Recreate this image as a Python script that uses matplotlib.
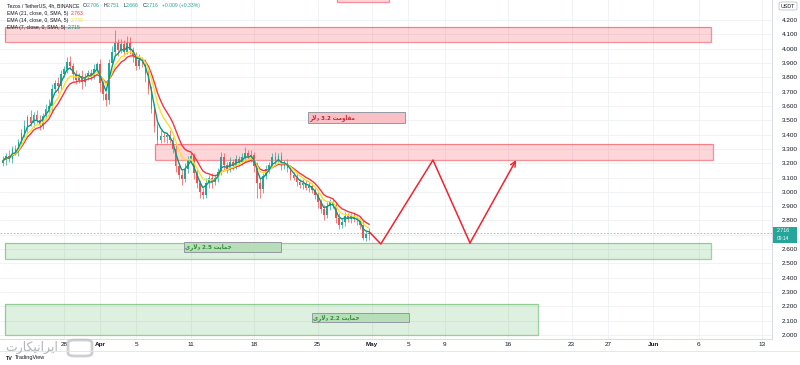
import numpy as np
import pandas as pd
import matplotlib
matplotlib.use("Agg")
import matplotlib.pyplot as plt
import matplotlib.patches as patches
from matplotlib.lines import Line2D

plt.rcParams["font.family"] = ["Liberation Sans", "DejaVu Sans"]

# --- data (8h candles, XTZ/USDT) ---
candle_start = "2022-03-21 08:00"
candle_freq = "8h"
first_open = 3.20
closes = [
    3.22, 3.25, 3.23, 3.30, 3.28, 3.35, 3.41, 3.46, 3.52, 3.48,
    3.54, 3.50, 3.47, 3.53, 3.58, 3.60, 3.72, 3.76, 3.74, 3.82,
    3.86, 3.91, 3.88, 3.82, 3.78, 3.81, 3.77, 3.80, 3.83, 3.81,
    3.86, 3.89, 3.76, 3.68, 3.64, 3.90, 3.98, 4.04, 3.99, 4.03,
    3.98, 4.04, 3.99, 3.95, 3.88, 3.92, 3.90, 3.82, 3.72, 3.58,
    3.46, 3.36, 3.39, 3.38, 3.40, 3.36, 3.30, 3.18, 3.12, 3.09,
    3.16, 3.22, 3.25, 3.13, 3.06, 3.00, 2.98, 3.06, 3.10, 3.07,
    3.10, 3.14, 3.24, 3.19, 3.16, 3.21, 3.18, 3.23, 3.21, 3.24,
    3.27, 3.24, 3.26, 3.18, 3.06, 3.02, 3.11, 3.16, 3.19, 3.24,
    3.22, 3.25, 3.18, 3.20, 3.17, 3.12, 3.10, 3.07, 3.05, 3.06,
    3.03, 3.04, 3.01, 2.98, 2.93, 2.88, 2.84, 2.90, 2.93, 2.91,
    2.82, 2.77, 2.79, 2.83, 2.81, 2.83, 2.81, 2.80, 2.77, 2.68,
    2.706, 2.716,
]
wick_up = [
    0.03, 0.02, 0.04, 0.02, 0.03, 0.02, 0.03, 0.04, 0.02, 0.05,
    0.02, 0.03, 0.04, 0.02, 0.03, 0.05, 0.03, 0.02, 0.04, 0.03,
    0.02, 0.03, 0.04, 0.02, 0.03, 0.02, 0.04, 0.03, 0.02, 0.03,
    0.03, 0.02, 0.04, 0.03, 0.02, 0.03, 0.04, 0.09, 0.03, 0.04,
    0.03, 0.05, 0.04, 0.02, 0.03, 0.04, 0.02, 0.03, 0.04, 0.02,
    0.03, 0.02, 0.04, 0.03, 0.02, 0.03, 0.02, 0.03, 0.02, 0.03,
    0.04, 0.03, 0.03, 0.02, 0.03, 0.02, 0.03, 0.04, 0.02, 0.03,
    0.02, 0.03, 0.04, 0.03, 0.02, 0.03, 0.02, 0.03, 0.02, 0.03,
    0.04, 0.02, 0.03, 0.02, 0.03, 0.04, 0.02, 0.03, 0.02, 0.03,
    0.04, 0.02, 0.03, 0.02, 0.03, 0.02, 0.02, 0.03, 0.02, 0.03,
    0.02, 0.03, 0.02, 0.02, 0.03, 0.02, 0.03, 0.03, 0.02, 0.03,
    0.02, 0.03, 0.02, 0.03, 0.02, 0.02, 0.03, 0.02, 0.02, 0.03,
    0.02, 0.035,
]
wick_dn = [
    0.02, 0.03, 0.02, 0.03, 0.02, 0.03, 0.02, 0.03, 0.04, 0.02,
    0.03, 0.02, 0.04, 0.03, 0.02, 0.03, 0.04, 0.02, 0.05, 0.03,
    0.02, 0.03, 0.02, 0.04, 0.03, 0.02, 0.05, 0.03, 0.02, 0.03,
    0.02, 0.03, 0.06, 0.04, 0.04, 0.03, 0.02, 0.03, 0.04, 0.02,
    0.03, 0.02, 0.03, 0.04, 0.03, 0.02, 0.03, 0.05, 0.04, 0.03,
    0.04, 0.03, 0.02, 0.03, 0.04, 0.02, 0.03, 0.04, 0.03, 0.04,
    0.02, 0.03, 0.02, 0.04, 0.03, 0.04, 0.03, 0.02, 0.03, 0.04,
    0.02, 0.03, 0.02, 0.04, 0.03, 0.02, 0.03, 0.02, 0.03, 0.02,
    0.03, 0.02, 0.03, 0.04, 0.10, 0.06, 0.03, 0.02, 0.03, 0.02,
    0.03, 0.02, 0.03, 0.02, 0.03, 0.04, 0.02, 0.03, 0.02, 0.03,
    0.02, 0.03, 0.02, 0.03, 0.04, 0.03, 0.04, 0.02, 0.03, 0.02,
    0.04, 0.03, 0.02, 0.03, 0.02, 0.03, 0.02, 0.03, 0.03, 0.015,
    0.02, 0.044,
]
ema_periods = [21, 14, 7]
ema_values = ["2.763", "2.738", "2.715"]
ohlc_keys = ["O", "H", "L", "C"]
ohlc_values = ["2.706", "2.751", "2.666", "2.716"]
change_text = "+0.009 (+0.33%)"

# zones: (start, end, low, high)
red_zones = [
    ("2022-03-21 12:00", "2022-06-07 09:00", 4.046, 4.151),
    ("2022-04-07 01:00", "2022-06-07 14:00", 3.222, 3.334),
    ("2022-04-27 03:00", "2022-05-02 21:00", 4.326, 4.40),
]
green_zones = [
    ("2022-03-21 12:00", "2022-06-07 09:00", 2.531, 2.643),
    ("2022-03-21 12:00", "2022-05-19 07:00", 2.000, 2.217),
]

# Persian labels written in visual order with Arabic presentation forms
lbl_res = "\uFEAD\uFEFB\uFEA9 3.2 \uFE96\uFEE3\uFEED\uFE8E\uFED8\uFEE3"      # مقاومت 3.2 دلار
lbl_sup25 = "\uFEEF\uFEAD\uFEFB\uFEA9 2.5 \uFE96\uFEF3\uFE8E\uFEE4\uFEA3"    # حمایت 2.5 دلاری
lbl_sup22 = "\uFEEF\uFEAD\uFEFB\uFEA9 2.2 \uFE96\uFEF3\uFE8E\uFEE4\uFEA3"    # حمایت 2.2 دلاری
brand = "\uFE95\uFEAD\uFE8E\uFEDC\uFEF4\uFEE7\uFE8D\uFEAE\uFEF3\uFE8D"         # ایرانیکارت

# label boxes: (start, end, low, high, text, kind)
label_boxes = [
    ("2022-04-23 22:00", "2022-05-04 15:00", 3.480, 3.557, lbl_res, "red"),
    ("2022-04-10 06:00", "2022-04-20 23:00", 2.580, 2.650, lbl_sup25, "green"),
    ("2022-04-24 09:00", "2022-05-05 02:00", 2.091, 2.154, lbl_sup22, "green"),
]

# projected zigzag
path_times = ["2022-04-30 18:00", "2022-05-01 23:00", "2022-05-07 17:00",
              "2022-05-11 19:00", "2022-05-16 21:00"]
path_prices = [2.716, 2.636, 3.222, 2.643, 3.222]

price_ticks = np.round(np.arange(2.0, 4.21, 0.1), 1)
date_ticks = ["2022-03-28", "2022-04-01", "2022-04-05", "2022-04-11", "2022-04-18",
              "2022-04-25", "2022-05-01", "2022-05-05", "2022-05-09", "2022-05-16",
              "2022-05-23", "2022-05-27", "2022-06-01", "2022-06-06", "2022-06-13"]
date_labels = ["28", "Apr", "5", "11", "18", "25", "May", "5", "9", "16",
               "23", "27", "Jun", "6", "13"]
last_price = 2.716
last_time = "09:14"

T0 = pd.Timestamp("2022-04-01")


def to_day(t):
    return (pd.to_datetime(t) - T0) / pd.Timedelta("1D")


UP = "#26a69a"
DN = "#ef5350"
TXT = "#131722"

fig = plt.figure(figsize=(8, 3.65), dpi=100)
ax = fig.add_axes([0, 26 / 365, 772 / 800, 339 / 365])
ax.set_xlim(-11.03, 74.09)
ax.set_ylim(1.9724, 4.3397)


def px(x, y):
    return x / 800, 1 - y / 365


# candles
dates = pd.date_range(candle_start, periods=len(closes), freq=candle_freq)
x = to_day(dates).values
c = np.array(closes)
o = np.concatenate([[first_open], c[:-1]])
hi = np.maximum(o, c) + np.array(wick_up)
lo = np.minimum(o, c) - np.array(wick_dn)
cols = np.where(c >= o, UP, DN)
ax.vlines(x, lo, hi, colors=cols, lw=0.5, zorder=3)
ax.bar(x, np.maximum(np.abs(c - o), 0.004), bottom=np.minimum(o, c), width=0.19,
       color=cols, linewidth=0, zorder=3)

# EMAs (spans halved for 8h bars)
s = pd.Series(c)
ema_colors = ["#f23645", "#f7e22a", "#089981"]
for n, col in zip(ema_periods, ema_colors):
    ax.plot(x, s.ewm(span=n / 2).mean(), color=col, lw=1.0, zorder=4)

# zones
for zones, col, a_fill in ((red_zones, "#f23645", 0.2), (green_zones, "#4caf50", 0.18)):
    for t0, t1, a, b in zones:
        w = to_day(t1) - to_day(t0)
        ax.add_patch(patches.Rectangle((to_day(t0), a), w, b - a, facecolor=col,
                                       alpha=a_fill, lw=0, zorder=1))
        ax.add_patch(patches.Rectangle((to_day(t0), a), w, b - a, facecolor="none",
                                       edgecolor=col, alpha=0.55, lw=0.9, zorder=1))

for t0, t1, a, b, txt, kind in label_boxes:
    fc = "#f8c1c6" if kind == "red" else "#b7deb8"
    tc = "#d81b2a" if kind == "red" else "#2e8b35"
    ax.add_patch(patches.Rectangle((to_day(t0), a), to_day(t1) - to_day(t0), b - a,
                                   facecolor=fc, edgecolor="#9598a1", lw=0.7, zorder=5))
    ax.text(to_day(t0) + 0.15, (a + b) / 2, txt, color=tc, fontsize=4.0,
            family=["DejaVu Sans"], fontweight="bold", ha="left", va="center", zorder=6)

# zigzag projection
pxs = to_day(path_times).values
ax.plot(pxs[:-1], path_prices[:-1], color="#f2232f", lw=1.1, zorder=6)
ax.annotate("", xy=(pxs[-1], path_prices[-1]), xytext=(pxs[-2], path_prices[-2]),
            arrowprops=dict(arrowstyle="->", color="#f2232f", lw=1.1,
                            mutation_scale=9, shrinkA=0, shrinkB=0), zorder=6)

# last price line
ax.axhline(last_price, color=UP, lw=0.6, ls=(0, (2, 2)), alpha=0.6, zorder=2)

# axes styling
ax.set_yticks(price_ticks)
# the 2.700 label sits under the last-price tag, so it is left blank
ax.set_yticklabels(["" if abs(p - 2.7) < 1e-6 else f"{p:.3f}" for p in price_ticks])
ax.yaxis.tick_right()
ax.set_xticks(to_day(date_ticks).values)
ax.set_xticklabels(date_labels)
for lab, t in zip(ax.get_xticklabels(), date_labels):
    if t in ("Apr", "May", "Jun"):
        lab.set_fontweight("bold")
ax.tick_params(axis="y", length=0, labelsize=4.6, pad=7, colors=TXT)
ax.tick_params(axis="x", length=0, labelsize=4.6, pad=2.5, colors=TXT)
ax.grid(True, color="#eef0f4", lw=0.6)
ax.set_axisbelow(True)
for sp in ("top", "left"):
    ax.spines[sp].set_visible(False)
for sp in ("right", "bottom"):
    ax.spines[sp].set_color("#d1d4dc")
    ax.spines[sp].set_linewidth(0.6)

fig.add_artist(Line2D([0, 1], [14 / 365, 14 / 365], color="#e0e3eb", lw=0.6))

# price tag and currency box
fig.add_artist(patches.Rectangle(px(773, 243), 24 / 800, 16 / 365,
                                 facecolor="#26a69a", lw=0, transform=fig.transFigure))
fig.text(*px(777, 231), f"{last_price:.3f}", color="white", fontsize=3.8, va="center")
fig.text(*px(777, 238.5), last_time, color="white", fontsize=3.5, va="center")
fig.add_artist(patches.FancyBboxPatch(px(779, 10), 18 / 800, 8 / 365,
                                      boxstyle="round,pad=0,rounding_size=0.003",
                                      facecolor="white", edgecolor="#b2b5be", lw=0.5,
                                      transform=fig.transFigure))
fig.text(*px(788, 6), "USDT", color=TXT, fontsize=3.9, ha="center", va="center")

# header legend, each piece chained after the previous one
HFS = 3.7
hdr_y = [5.5, 13.5, 20.5, 27.5]


def after(prev, txt, color, gap=0):
    return ax.annotate(txt, xy=(1, 0.5), xycoords=prev, xytext=(gap, 0),
                       textcoords="offset points", color=color, fontsize=HFS,
                       va="center", ha="left", annotation_clip=False)


t = fig.text(*px(7, hdr_y[0]), "Tezos / TetherUS, 4h, BINANCE", color=TXT,
             fontsize=HFS, va="center")
for k, v in zip(ohlc_keys, ohlc_values):
    t = after(t, k, TXT, gap=2.5)
    t = after(t, v, UP)
after(t, change_text, UP, gap=2.5)
for n, val, col, yy in zip(ema_periods, ema_values, ema_colors, hdr_y[1:]):
    t = fig.text(*px(7, yy), f"EMA ({n}, close, 0, SMA, 5)", color=TXT,
                 fontsize=HFS, va="center")
    after(t, val, col, gap=2)

# watermark / footer
fig.text(*px(5, 347), brand, color="#a0a3a8", fontsize=9, family=["DejaVu Sans"],
         va="center", alpha=0.8)
fig.add_artist(patches.FancyBboxPatch(px(68, 356), 24 / 800, 16 / 365,
                                      boxstyle="round,pad=0,rounding_size=0.008",
                                      facecolor="none", edgecolor="#b8bbc0", lw=2,
                                      alpha=0.7, transform=fig.transFigure))
fig.text(*px(6, 358), "TV", color=TXT, fontsize=3.9, fontweight="bold", va="center")
fig.text(*px(15, 358), "TradingView", color=TXT, fontsize=4, va="center")

fig.savefig("out.png", dpi=100)
